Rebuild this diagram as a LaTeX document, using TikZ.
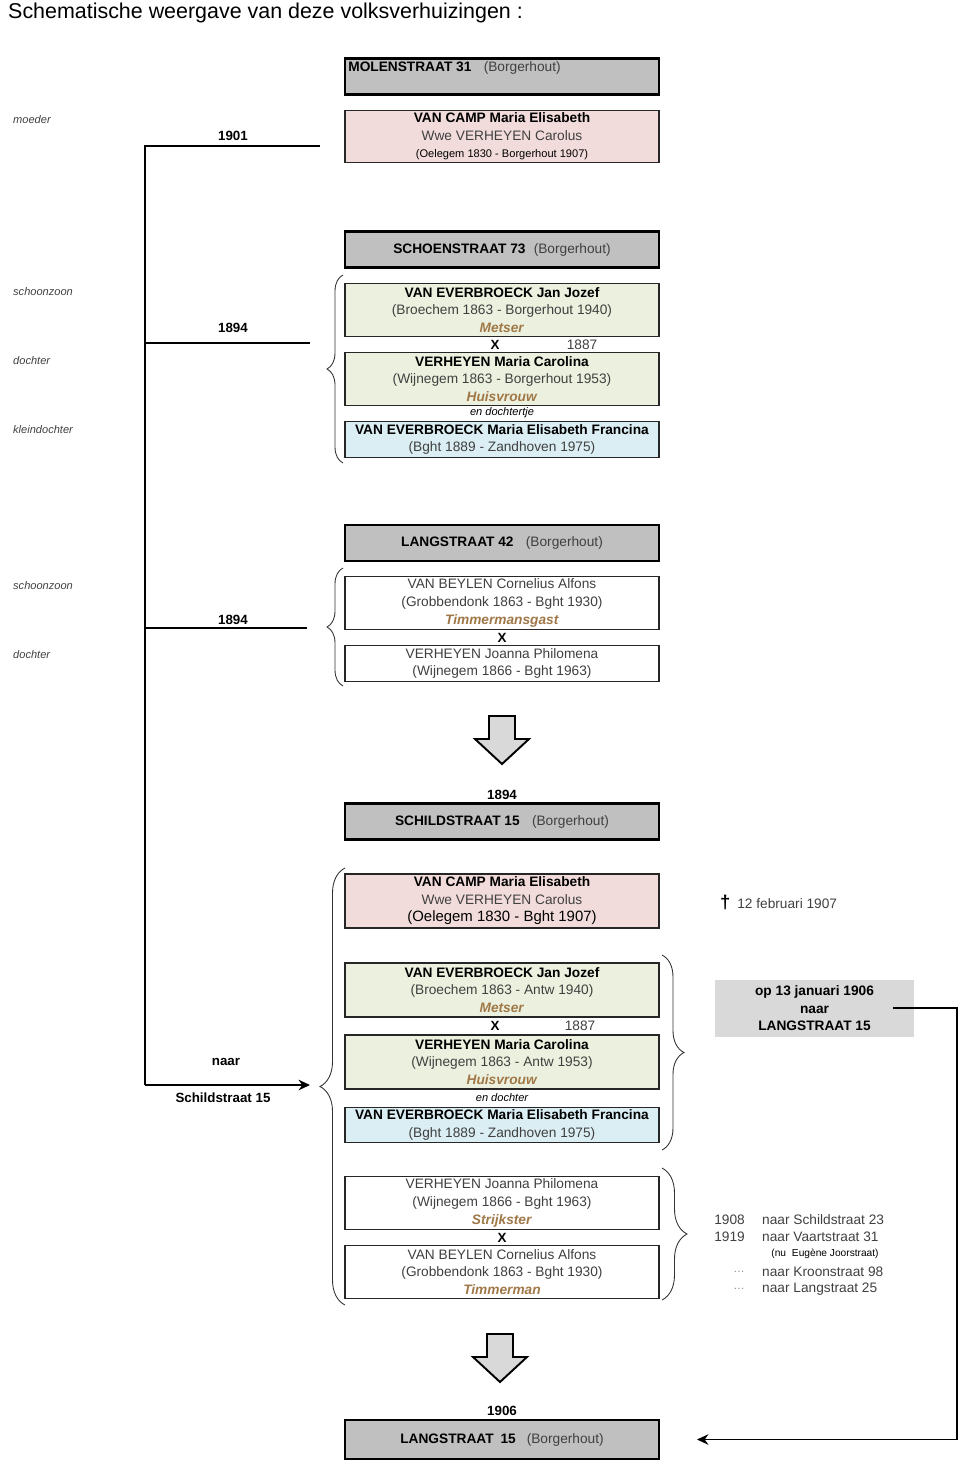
\documentclass[tikz,border=0pt]{standalone}
\usepackage{fontspec}
\setmainfont{Liberation Sans}
\usetikzlibrary{decorations.pathreplacing, arrows.meta, positioning}

\definecolor{straatgrijs}{RGB}{192,192,192}
\definecolor{roze}{RGB}{242,220,219}
\definecolor{groen}{RGB}{235,241,222}
\definecolor{blauw}{RGB}{219,238,244}
\definecolor{beroep}{RGB}{160,120,72}
\definecolor{tekstgrijs}{RGB}{64,64,64}
\definecolor{pijlgrijs}{RGB}{217,217,217}
\definecolor{notagrijs}{RGB}{217,217,217}

\newcommand{\naam}[1]{\textcolor{black}{\textbf{#1}}}
\newcommand{\beroep}[1]{\textcolor{beroep}{\textbf{\textit{#1}}}}
\newcommand{\gr}[1]{\textcolor{tekstgrijs}{#1}}
\newcommand{\puntjes}{\textcolor{black!45}{\fontsize{6.5}{7}\selectfont\ldots}}

\begin{document}
\begin{tikzpicture}[x=0.02cm, y=-0.02cm,
    font=\fontsize{7.8}{10}\selectfont,
    straat/.style={draw, line width=1.6pt, fill=straatgrijs, minimum width=6.28cm, minimum height=0.72cm, inner sep=0pt},
    persoon/.style={draw=black!85, line width=0.8pt, minimum width=6.28cm, align=center, inner sep=0pt, text=tekstgrijs},
    drie/.style={persoon, minimum height=1.05cm},
    twee/.style={persoon, minimum height=0.71cm},
    rol/.style={anchor=west, font=\fontsize{6.3}{7.5}\selectfont\itshape, text=tekstgrijs},
    jaar/.style={font=\fontsize{7.6}{9}\selectfont\bfseries},
    klein/.style={font=\fontsize{6.3}{7.5}\selectfont\itshape},
    tijdlijn/.style={line width=0.9pt},
    accolade/.style={decorate, decoration={brace, amplitude=#1}, line width=0.5pt, draw=black!80},
    blokpijl/.style={draw, line width=1.1pt, fill=pijlgrijs, line join=miter}]
    \useasboundingbox (0,0) rectangle (960,1464);

    \node[anchor=west, font=\fontsize{12.2}{14}\selectfont] (titel) at (2,13) {Schematische weergave van deze volksverhuizingen :};

    % Molenstraat 31
    \node[straat] (molen) at (502,76.5) {};
    \node[anchor=west, inner sep=0pt] (molentekst) at (348,68) {\naam{MOLENSTRAAT 31}\hspace{0.9em}\gr{(Borgerhout)}};
    \node[rol] (moeder) at (7,120) {moeder};
    \node[jaar] (j1901) at (233,136) {1901};
    \node[drie, fill=roze] (camp1) at (502,136.5) {\naam{VAN CAMP Maria Elisabeth}\\Wwe VERHEYEN Carolus\\{\fontsize{6.3}{10}\selectfont\color{black}(Oelegem 1830 - Borgerhout 1907)}};

    % Schoenstraat 73
    \node[straat] (schoen) at (502,249.5) {\naam{SCHOENSTRAAT 73}\hspace{0.6em}\gr{(Borgerhout)}};
    \node[drie, fill=groen] (jan1) at (502,310) {\naam{VAN EVERBROECK Jan Jozef}\\(Broechem 1863 - Borgerhout 1940)\\\beroep{Metser}};
    \node[jaar] (x1) at (495,345) {X};
    \node (huw1) at (582,345) {\gr{1887}};
    \node[drie, fill=groen] (carolina1) at (502,379) {\naam{VERHEYEN Maria Carolina}\\(Wijnegem 1863 - Borgerhout 1953)\\\beroep{Huisvrouw}};
    \node[klein] (dochtertje) at (502,413) {en dochtertje};
    \node[twee, fill=blauw] (francina1) at (502,439.5) {\naam{VAN EVERBROECK Maria Elisabeth Francina}\\(Bght 1889 - Zandhoven 1975)};
    \node[rol] (schoonzoon1) at (7,292) {schoonzoon};
    \node[rol] (dochter1) at (7,361) {dochter};
    \node[rol] (kleindochter) at (7,430) {kleindochter};
    \node[jaar] (j1894a) at (233,328) {1894};
    \draw[accolade=0.32cm] (343,463) -- (343,275);

    % Langstraat 42
    \node[straat] (lang42) at (502,543) {\naam{LANGSTRAAT 42}\hspace{0.9em}\gr{(Borgerhout)}};
    \node[drie, fill=white] (beylen1) at (502,603) {VAN BEYLEN Cornelius Alfons\\(Grobbendonk 1863 - Bght 1930)\\\beroep{Timmermansgast}};
    \node[jaar] (x2) at (502,638) {X};
    \node[twee, fill=white] (joanna1) at (502,663.5) {VERHEYEN Joanna Philomena\\(Wijnegem 1866 - Bght 1963)};
    \node[rol] (schoonzoon2) at (7,586) {schoonzoon};
    \node[rol] (dochter2) at (7,655) {dochter};
    \node[jaar] (j1894b) at (233,620) {1894};
    \draw[accolade=0.32cm] (343,686) -- (343,568);

    % tijdlijn links
    \coordinate (asboven) at (145,146);
    \coordinate (asonder) at (145,1085);
    \coordinate (eind1901) at (320,146);
    \coordinate (eind1894a) at (310,343);
    \coordinate (eind1894b) at (307,628);
    \coordinate (eindschild) at (310,1085);
    \draw[tijdlijn] (eind1901) -- (asboven) -- (asonder);
    \draw[tijdlijn] (asboven |- eind1894a) -- (eind1894a);
    \draw[tijdlijn] (asboven |- eind1894b) -- (eind1894b);
    \draw[tijdlijn, -{Stealth[length=6.5pt, width=6pt]}] (asonder) -- (eindschild);
    \node[jaar] (naar) at (226,1062) {naar};
    \node[jaar] (naarschild) at (223,1098) {Schildstraat 15};

    % blokpijlen
    \foreach \x/\y in {502/716, 500/1334}
        \draw[blokpijl, shift={(\x,\y)}] (-13,0) -- (13,0) -- (13,23) -- (27,23) -- (0,48) -- (-27,23) -- (-13,23) -- cycle;

    % Schildstraat 15
    \node[jaar] (j1894c) at (502,795) {1894};
    \node[straat] (schild) at (502,821.5) {\naam{SCHILDSTRAAT 15}\hspace{0.9em}\gr{(Borgerhout)}};
    \draw[accolade=0.5cm] (345,1305) -- (345,868);
    \node[drie, fill=roze, minimum height=1.08cm] (camp2) at (502,901) {\naam{VAN CAMP Maria Elisabeth}\\Wwe VERHEYEN Carolus\\{\fontsize{8.5}{10.3}\selectfont\color{black}(Oelegem 1830 - Bght 1907)}};
    \node[anchor=west] (dood) at (714,902) {{\fontsize{10.5}{11}\selectfont\bfseries †}\hspace{0.5em}\gr{12 februari 1907}};
    \node[drie, fill=groen, minimum height=1.08cm] (jan2) at (502,990) {\naam{VAN EVERBROECK Jan Jozef}\\(Broechem 1863 - Antw 1940)\\\beroep{Metser}};
    \node[jaar] (x3) at (495,1026) {X};
    \node (huw2) at (580,1026) {\gr{1887}};
    \node[drie, fill=groen, minimum height=1.08cm] (carolina2) at (502,1062) {\naam{VERHEYEN Maria Carolina}\\(Wijnegem 1863 - Antw 1953)\\\beroep{Huisvrouw}};
    \node[klein] (dochter3) at (502,1098) {en dochter};
    \node[twee, fill=blauw] (francina2) at (502,1125) {\naam{VAN EVERBROECK Maria Elisabeth Francina}\\(Bght 1889 - Zandhoven 1975)};
    \draw[accolade=0.44cm] (662,955) -- (662,1150);

    \node[drie, fill=white] (joanna2) at (502,1203) {VERHEYEN Joanna Philomena\\(Wijnegem 1866 - Bght 1963)\\\beroep{Strijkster}};
    \node[jaar] (x4) at (502,1238) {X};
    \node[drie, fill=white] (beylen2) at (502,1272) {VAN BEYLEN Cornelius Alfons\\(Grobbendonk 1863 - Bght 1930)\\\beroep{Timmerman}};
    \draw[accolade=0.5cm] (662,1168) -- (662,1300);

    % verdere verhuizingen
    \foreach \j/\t/\y in {1908/naar Schildstraat 23/1220, 1919/naar Vaartstraat 31/1237, \puntjes/naar Kroonstraat 98/1272, \puntjes/naar Langstraat 25/1289} {
        \node[anchor=east, text=tekstgrijs] (jaar\y) at (751,\y) {\j};
        \node[anchor=west, text=tekstgrijs] (adres\y) at (756,\y) {\t};
    }
    \node[font=\fontsize{5.8}{7}\selectfont] (nu) at (825,1254) {(nu\hspace{0.3em} Eugène Joorstraat)};

    % nota en verhuis naar Langstraat 15
    \node[fill=notagrijs, minimum width=3.98cm, minimum height=1.1cm, align=center, font=\fontsize{7.8}{10}\selectfont\bfseries] (nota) at (814.5,1008.5) {op 13 januari 1906\\naar\\LANGSTRAAT 15};
    \node[jaar] (j1906) at (502,1411) {1906};
    \node[straat, minimum height=0.78cm] (lang15) at (502,1439.5) {\naam{LANGSTRAAT\hspace{0.5em}15}\hspace{0.8em}\gr{(Borgerhout)}};
    \coordinate (notauit) at (893,1008);
    \coordinate (terug) at (957,1008);
    \coordinate (aankomst) at (697,1439.5);
    \draw[line width=0.8pt, -{Stealth[length=6.5pt, width=6pt]}] (notauit) -- (terug) |- (aankomst);
\end{tikzpicture}
\end{document}
